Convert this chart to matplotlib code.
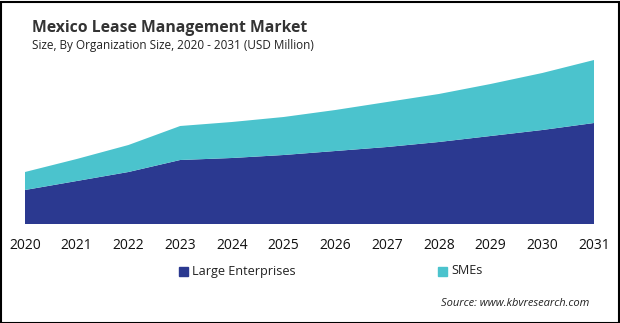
import numpy as np
import matplotlib
matplotlib.use("Agg")
import matplotlib.pyplot as plt
from matplotlib.patches import Rectangle

plt.rcParams['font.family'] = ['Open Sans', 'DejaVu Sans']

# Data (USD Million, relative scale)
years = [2020, 2021, 2022, 2023, 2024, 2025, 2026, 2027, 2028, 2029, 2030, 2031]
large = [34, 43, 52, 64, 66, 69, 73, 77, 82, 88, 94, 101]
smes = [18, 22, 27, 34, 36, 38, 41, 45, 48, 52, 57, 63]

c_large = '#2B3990'
c_smes = '#4BC3CD'

fig = plt.figure(figsize=(6.2, 3.23), dpi=100)
ax = fig.add_axes([25 / 620, 99 / 323, 569 / 620, 170 / 323])

ax.stackplot(years, large, smes, colors=[c_large, c_smes],
             labels=['Large Enterprises', 'SMEs'], linewidth=0)
ax.set_xlim(2020, 2031)
ax.set_ylim(0, 170)
ax.set_xticks(years)
ax.set_xticklabels([str(y) for y in years], fontsize=10, color='#111111')
ax.tick_params(axis='x', length=0, pad=10)
ax.set_yticks([])
for s in ax.spines.values():
    s.set_visible(False)

fig.text(32 / 620, 1 - 28 / 323, 'Mexico Lease Management Market', fontsize=11.3,
         fontweight='bold', color='#333333', va='center')
fig.text(32 / 620, 1 - 45 / 323, 'Size, By Organization Size, 2020 - 2031 (USD Million)',
         fontsize=8.5, color='#222222', va='center')

# legend
fig.patches.append(Rectangle((179 / 620, 1 - 276 / 323), 9 / 620, 9 / 323,
                             transform=fig.transFigure, color=c_large))
fig.text(192 / 620, 1 - 271 / 323, 'Large Enterprises', fontsize=9.1, color='#222222', va='center')
fig.patches.append(Rectangle((438 / 620, 1 - 276 / 323), 9 / 620, 9 / 323,
                             transform=fig.transFigure, color=c_smes))
fig.text(451 / 620, 1 - 271 / 323, 'SMEs', fontsize=9.1, color='#222222', va='center')

fig.text(589 / 620, 1 - 304 / 323, 'Source: www.kbvresearch.com', fontsize=8,
         style='italic', color='#222222', va='center', ha='right')

# border
fig.patches.append(Rectangle((0.5 / 620, 0.5 / 323), 618 / 620, 321 / 323,
                             transform=fig.transFigure, fill=False,
                             edgecolor='black', linewidth=1.5))

fig.savefig('out.png', dpi=100)
